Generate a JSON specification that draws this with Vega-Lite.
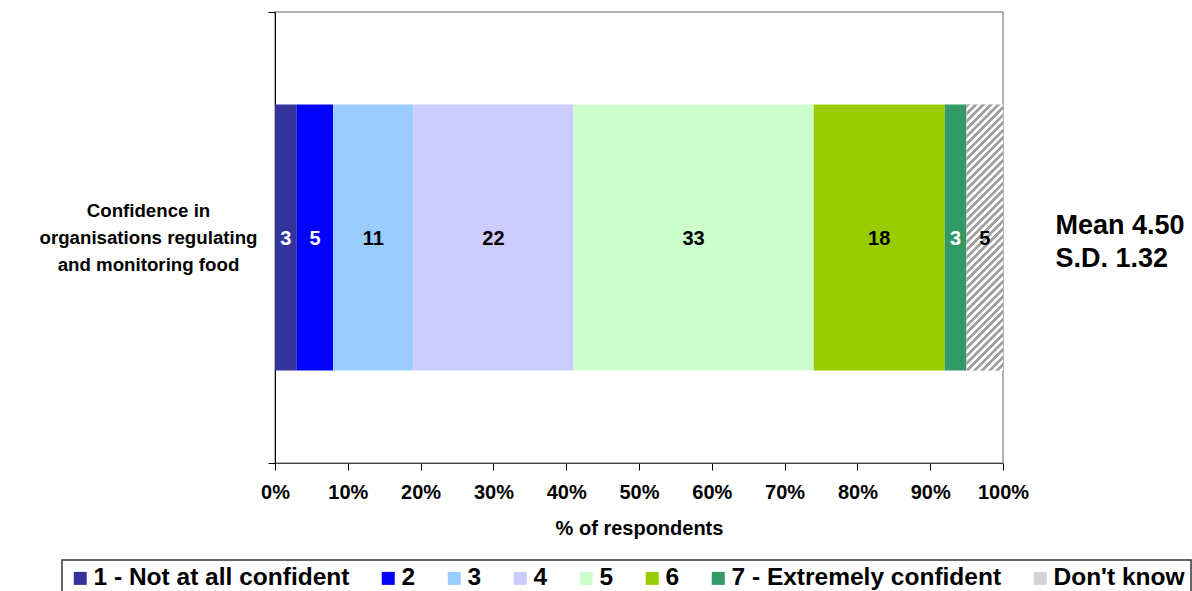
{
  "$schema": "https://vega.github.io/schema/vega-lite/v6.json",
  "width": 728,
  "height": 451,
  "autosize": {"type": "none"},
  "padding": {"left": 275, "top": 12, "right": 189, "bottom": 128},
  "background": "white",
  "config": {
    "font": "Liberation Sans",
    "view": {"stroke": "#999999", "strokeWidth": 1.5}
  },
  "resolve": {"axis": {"y": "independent"}},
  "datasets": {
    "resp": [
      {"q": "Confidence in organisations regulating and monitoring food", "response": "1 - Not at all confident", "order": 1, "pct": 3},
      {"q": "Confidence in organisations regulating and monitoring food", "response": "2", "order": 2, "pct": 5},
      {"q": "Confidence in organisations regulating and monitoring food", "response": "3", "order": 3, "pct": 11},
      {"q": "Confidence in organisations regulating and monitoring food", "response": "4", "order": 4, "pct": 22},
      {"q": "Confidence in organisations regulating and monitoring food", "response": "5", "order": 5, "pct": 33},
      {"q": "Confidence in organisations regulating and monitoring food", "response": "6", "order": 6, "pct": 18},
      {"q": "Confidence in organisations regulating and monitoring food", "response": "7 - Extremely confident", "order": 7, "pct": 3},
      {"q": "Confidence in organisations regulating and monitoring food", "response": "Don't know", "order": 8, "pct": 5}
    ],
    "stats": [
      {"q": "Confidence in organisations regulating and monitoring food", "summary": "Mean 4.50\nS.D. 1.32"}
    ]
  },
  "layer": [
    {
      "data": {"name": "resp"},
      "mark": {"type": "bar", "height": {"band": 0.59}},
      "encoding": {
        "y": {
          "field": "q", "type": "nominal",
          "scale": {"paddingInner": 0, "paddingOuter": 0},
          "axis": {
            "orient": "left",
            "title": null,
            "ticks": false,
            "domain": false,
            "labelAlign": "center",
            "labelBaseline": "middle",
            "labelPadding": 127,
            "labelOffset": -27,
            "labelFontSize": 18.7,
            "labelFontWeight": "bold",
            "labelColor": "#000000",
            "labelLineHeight": 27,
            "labelLimit": 400,
            "labelExpr": "['Confidence in', 'organisations regulating', 'and monitoring food']"
          }
        },
        "x": {
          "field": "pct", "type": "quantitative", "stack": "zero",
          "scale": {"domain": [0, 100], "nice": false},
          "axis": {
            "title": "% of respondents",
            "values": [0, 10, 20, 30, 40, 50, 60, 70, 80, 90, 100],
            "labelExpr": "datum.value + '%'",
            "grid": false,
            "tickSize": 7,
            "tickColor": "#000000",
            "domainColor": "#444444",
            "labelPadding": 12,
            "labelFontSize": 20,
            "labelFontWeight": "bold",
            "labelColor": "#000000",
            "labelFlush": false,
            "titleFontSize": 20,
            "titleFontWeight": "bold",
            "titleColor": "#000000",
            "titlePadding": 16
          }
        },
        "order": {"field": "order", "type": "quantitative"},
        "color": {
          "field": "response", "type": "nominal",
          "scale": {
            "domain": ["1 - Not at all confident", "2", "3", "4", "5", "6", "7 - Extremely confident", "Don't know"],
            "range": ["#333399", "#0000FF", "#99CCFF", "#CCCCFF", "#CCFFCC", "#99CC00", "#339966", "#D4D4D4"]
          },
          "legend": {
            "title": null,
            "orient": "none",
            "legendX": -213,
            "legendY": 548,
            "direction": "horizontal",
            "columns": 8,
            "symbolType": "square",
            "symbolSize": 169,
            "symbolStrokeWidth": 0,
            "labelFontSize": 24.5,
            "labelFontWeight": "bold",
            "labelColor": "#000000",
            "labelOffset": 1,
            "labelLimit": 400,
            "columnPadding": 26,
            "padding": 6,
            "strokeColor": "#333333",
            "fillColor": "#FFFFFF",
            "encode": {
              "legend": {"update": {"strokeWidth": {"value": 1.5}}}
            }
          }
        }
      }
    },
    {
      "data": {"name": "resp"},
      "mark": {"type": "bar", "height": {"band": 0.59}, "fill": {"gradient": "linear", "x1": 0, "y1": 0, "x2": 0.153, "y2": 1.116, "stops": [
        {"offset": 0, "color": "#a0a0a0"}, {"offset": 0.011, "color": "#a0a0a0"}, {"offset": 0.0135, "color": "#ffffff"}, {"offset": 0.0235, "color": "#ffffff"},
        {"offset": 0.025, "color": "#a0a0a0"}, {"offset": 0.036, "color": "#a0a0a0"}, {"offset": 0.0385, "color": "#ffffff"}, {"offset": 0.0485, "color": "#ffffff"},
        {"offset": 0.05, "color": "#a0a0a0"}, {"offset": 0.061, "color": "#a0a0a0"}, {"offset": 0.0635, "color": "#ffffff"}, {"offset": 0.0735, "color": "#ffffff"},
        {"offset": 0.075, "color": "#a0a0a0"}, {"offset": 0.086, "color": "#a0a0a0"}, {"offset": 0.0885, "color": "#ffffff"}, {"offset": 0.0985, "color": "#ffffff"},
        {"offset": 0.1, "color": "#a0a0a0"}, {"offset": 0.111, "color": "#a0a0a0"}, {"offset": 0.1135, "color": "#ffffff"}, {"offset": 0.1235, "color": "#ffffff"},
        {"offset": 0.125, "color": "#a0a0a0"}, {"offset": 0.136, "color": "#a0a0a0"}, {"offset": 0.1385, "color": "#ffffff"}, {"offset": 0.1485, "color": "#ffffff"},
        {"offset": 0.15, "color": "#a0a0a0"}, {"offset": 0.161, "color": "#a0a0a0"}, {"offset": 0.1635, "color": "#ffffff"}, {"offset": 0.1735, "color": "#ffffff"},
        {"offset": 0.175, "color": "#a0a0a0"}, {"offset": 0.186, "color": "#a0a0a0"}, {"offset": 0.1885, "color": "#ffffff"}, {"offset": 0.1985, "color": "#ffffff"},
        {"offset": 0.2, "color": "#a0a0a0"}, {"offset": 0.211, "color": "#a0a0a0"}, {"offset": 0.2135, "color": "#ffffff"}, {"offset": 0.2235, "color": "#ffffff"},
        {"offset": 0.225, "color": "#a0a0a0"}, {"offset": 0.236, "color": "#a0a0a0"}, {"offset": 0.2385, "color": "#ffffff"}, {"offset": 0.2485, "color": "#ffffff"},
        {"offset": 0.25, "color": "#a0a0a0"}, {"offset": 0.261, "color": "#a0a0a0"}, {"offset": 0.2635, "color": "#ffffff"}, {"offset": 0.2735, "color": "#ffffff"},
        {"offset": 0.275, "color": "#a0a0a0"}, {"offset": 0.286, "color": "#a0a0a0"}, {"offset": 0.2885, "color": "#ffffff"}, {"offset": 0.2985, "color": "#ffffff"},
        {"offset": 0.3, "color": "#a0a0a0"}, {"offset": 0.311, "color": "#a0a0a0"}, {"offset": 0.3135, "color": "#ffffff"}, {"offset": 0.3235, "color": "#ffffff"},
        {"offset": 0.325, "color": "#a0a0a0"}, {"offset": 0.336, "color": "#a0a0a0"}, {"offset": 0.3385, "color": "#ffffff"}, {"offset": 0.3485, "color": "#ffffff"},
        {"offset": 0.35, "color": "#a0a0a0"}, {"offset": 0.361, "color": "#a0a0a0"}, {"offset": 0.3635, "color": "#ffffff"}, {"offset": 0.3735, "color": "#ffffff"},
        {"offset": 0.375, "color": "#a0a0a0"}, {"offset": 0.386, "color": "#a0a0a0"}, {"offset": 0.3885, "color": "#ffffff"}, {"offset": 0.3985, "color": "#ffffff"},
        {"offset": 0.4, "color": "#a0a0a0"}, {"offset": 0.411, "color": "#a0a0a0"}, {"offset": 0.4135, "color": "#ffffff"}, {"offset": 0.4235, "color": "#ffffff"},
        {"offset": 0.425, "color": "#a0a0a0"}, {"offset": 0.436, "color": "#a0a0a0"}, {"offset": 0.4385, "color": "#ffffff"}, {"offset": 0.4485, "color": "#ffffff"},
        {"offset": 0.45, "color": "#a0a0a0"}, {"offset": 0.461, "color": "#a0a0a0"}, {"offset": 0.4635, "color": "#ffffff"}, {"offset": 0.4735, "color": "#ffffff"},
        {"offset": 0.475, "color": "#a0a0a0"}, {"offset": 0.486, "color": "#a0a0a0"}, {"offset": 0.4885, "color": "#ffffff"}, {"offset": 0.4985, "color": "#ffffff"},
        {"offset": 0.5, "color": "#a0a0a0"}, {"offset": 0.511, "color": "#a0a0a0"}, {"offset": 0.5135, "color": "#ffffff"}, {"offset": 0.5235, "color": "#ffffff"},
        {"offset": 0.525, "color": "#a0a0a0"}, {"offset": 0.536, "color": "#a0a0a0"}, {"offset": 0.5385, "color": "#ffffff"}, {"offset": 0.5485, "color": "#ffffff"},
        {"offset": 0.55, "color": "#a0a0a0"}, {"offset": 0.561, "color": "#a0a0a0"}, {"offset": 0.5635, "color": "#ffffff"}, {"offset": 0.5735, "color": "#ffffff"},
        {"offset": 0.575, "color": "#a0a0a0"}, {"offset": 0.586, "color": "#a0a0a0"}, {"offset": 0.5885, "color": "#ffffff"}, {"offset": 0.5985, "color": "#ffffff"},
        {"offset": 0.6, "color": "#a0a0a0"}, {"offset": 0.611, "color": "#a0a0a0"}, {"offset": 0.6135, "color": "#ffffff"}, {"offset": 0.6235, "color": "#ffffff"},
        {"offset": 0.625, "color": "#a0a0a0"}, {"offset": 0.636, "color": "#a0a0a0"}, {"offset": 0.6385, "color": "#ffffff"}, {"offset": 0.6485, "color": "#ffffff"},
        {"offset": 0.65, "color": "#a0a0a0"}, {"offset": 0.661, "color": "#a0a0a0"}, {"offset": 0.6635, "color": "#ffffff"}, {"offset": 0.6735, "color": "#ffffff"},
        {"offset": 0.675, "color": "#a0a0a0"}, {"offset": 0.686, "color": "#a0a0a0"}, {"offset": 0.6885, "color": "#ffffff"}, {"offset": 0.6985, "color": "#ffffff"},
        {"offset": 0.7, "color": "#a0a0a0"}, {"offset": 0.711, "color": "#a0a0a0"}, {"offset": 0.7135, "color": "#ffffff"}, {"offset": 0.7235, "color": "#ffffff"},
        {"offset": 0.725, "color": "#a0a0a0"}, {"offset": 0.736, "color": "#a0a0a0"}, {"offset": 0.7385, "color": "#ffffff"}, {"offset": 0.7485, "color": "#ffffff"},
        {"offset": 0.75, "color": "#a0a0a0"}, {"offset": 0.761, "color": "#a0a0a0"}, {"offset": 0.7635, "color": "#ffffff"}, {"offset": 0.7735, "color": "#ffffff"},
        {"offset": 0.775, "color": "#a0a0a0"}, {"offset": 0.786, "color": "#a0a0a0"}, {"offset": 0.7885, "color": "#ffffff"}, {"offset": 0.7985, "color": "#ffffff"},
        {"offset": 0.8, "color": "#a0a0a0"}, {"offset": 0.811, "color": "#a0a0a0"}, {"offset": 0.8135, "color": "#ffffff"}, {"offset": 0.8235, "color": "#ffffff"},
        {"offset": 0.825, "color": "#a0a0a0"}, {"offset": 0.836, "color": "#a0a0a0"}, {"offset": 0.8385, "color": "#ffffff"}, {"offset": 0.8485, "color": "#ffffff"},
        {"offset": 0.85, "color": "#a0a0a0"}, {"offset": 0.861, "color": "#a0a0a0"}, {"offset": 0.8635, "color": "#ffffff"}, {"offset": 0.8735, "color": "#ffffff"},
        {"offset": 0.875, "color": "#a0a0a0"}, {"offset": 0.886, "color": "#a0a0a0"}, {"offset": 0.8885, "color": "#ffffff"}, {"offset": 0.8985, "color": "#ffffff"},
        {"offset": 0.9, "color": "#a0a0a0"}, {"offset": 0.911, "color": "#a0a0a0"}, {"offset": 0.9135, "color": "#ffffff"}, {"offset": 0.9235, "color": "#ffffff"},
        {"offset": 0.925, "color": "#a0a0a0"}, {"offset": 0.936, "color": "#a0a0a0"}, {"offset": 0.9385, "color": "#ffffff"}, {"offset": 0.9485, "color": "#ffffff"},
        {"offset": 0.95, "color": "#a0a0a0"}, {"offset": 0.961, "color": "#a0a0a0"}, {"offset": 0.9635, "color": "#ffffff"}, {"offset": 0.9735, "color": "#ffffff"},
        {"offset": 0.975, "color": "#a0a0a0"}, {"offset": 0.986, "color": "#a0a0a0"}, {"offset": 0.9885, "color": "#ffffff"}, {"offset": 1, "color": "#ffffff"}
      ]}},
      "encoding": {
        "y": {
          "field": "q", "type": "nominal",
          "axis": {
            "orient": "left",
            "title": null,
            "labels": false,
            "tickBand": "extent",
            "ticks": true,
            "tickSize": 7,
            "tickColor": "#000000",
            "domain": true,
            "domainColor": "#000000",
            "grid": false
          }
        },
        "x": {"field": "pct", "type": "quantitative", "stack": "zero"},
        "order": {"field": "order", "type": "quantitative"},
        "detail": {"field": "response", "type": "nominal"},
        "opacity": {"condition": {"test": "datum.response === \"Don't know\"", "value": 1}, "value": 0}
      }
    },
    {
      "data": {"name": "resp"},
      "mark": {"type": "text", "fontSize": 20, "fontWeight": "bold", "baseline": "middle", "align": "center", "dy": 1},
      "encoding": {
        "y": {"field": "q", "type": "nominal", "axis": null},
        "x": {"field": "pct", "type": "quantitative", "stack": "zero", "bandPosition": 0.5},
        "order": {"field": "order", "type": "quantitative"},
        "detail": {"field": "response", "type": "nominal"},
        "text": {"field": "pct", "type": "quantitative"},
        "color": {"condition": {"test": "datum.order === 1 || datum.order === 2 || datum.order === 7", "value": "#ffffff"}, "value": "#000000"}
      }
    },
    {
      "data": {"name": "stats"},
      "mark": {"type": "text", "fontSize": 27, "fontWeight": "bold", "align": "left", "baseline": "middle", "lineBreak": "\n", "lineHeight": 33, "dy": -12, "color": "#000000"},
      "encoding": {
        "y": {"field": "q", "type": "nominal", "axis": null},
        "x": {"datum": 107.2, "type": "quantitative"},
        "text": {"field": "summary", "type": "nominal"}
      }
    }
  ]
}
